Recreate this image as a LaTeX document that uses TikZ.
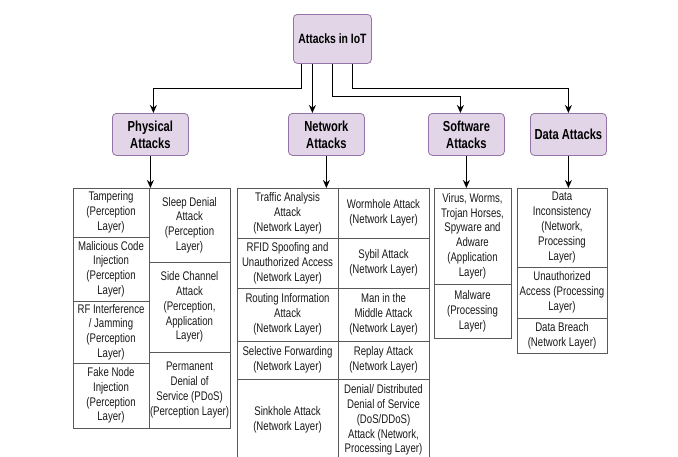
\documentclass[tikz,border=0pt]{standalone}
\usepackage{fontspec}
\setmainfont[FakeStretch=0.77]{Liberation Sans}
\usetikzlibrary{arrows.meta}
\definecolor{catfill}{HTML}{E1D5E7}
\definecolor{catline}{HTML}{9673A6}
\tikzset{cat/.style={draw=catline, fill=catfill, rounded corners=4pt, line width=0.8pt,
         font=\bfseries\fontsize{14.5}{17}\selectfont, align=center,
         minimum width=76, minimum height=42, anchor=north west, inner sep=1pt},
         cell/.style={draw=black!65, line width=0.8pt, anchor=north west, align=center,
         inner sep=1pt, outer sep=0pt, text=black!90, font=\fontsize{12.5}{14.8}\selectfont},
         arr/.style={-{Stealth[length=8pt,width=7pt]}, line width=1.3pt}}

\begin{document}
\begin{tikzpicture}[x=1pt,y=-1pt]
  \clip (0,0) rectangle (678,456);
  \fill[white] (0,0) rectangle (678,456);
  % top level
  \node[cat, font=\bfseries\fontsize{13.5}{16}\selectfont, minimum width=78, minimum height=49] (iot) at (293,14) {Attacks in IoT};
  \node[cat] (phys) at (112,113) {Physical\\Attacks};
  \node[cat] (net) at (288,113) {Network\\Attacks};
  \node[cat] (soft) at (428,113) {Software\\Attacks};
  \node[cat] (data) at (530,113) {Data Attacks};
  % physical attacks
  \node[cell, minimum width=76, minimum height=49] (ph1) at (73,188) {Tampering\\(Perception\\Layer)};
  \node[cell, minimum width=76, minimum height=64] (ph2) at (73,237) {Malicious Code\\Injection\\(Perception\\Layer)};
  \node[cell, minimum width=76, minimum height=62] (ph3) at (73,301) {RF Interference\\/ Jamming\\(Perception\\Layer)};
  \node[cell, minimum width=76, minimum height=65] (ph4) at (73,363) {Fake Node\\Injection\\(Perception\\Layer)};
  \node[cell, minimum width=81, minimum height=74] (ph5) at (149,188) {Sleep Denial\\Attack\\(Perception\\Layer)};
  \node[cell, minimum width=81, minimum height=90] (ph6) at (149,262) {Side Channel\\Attack\\(Perception,\\Application\\Layer)};
  \node[cell, minimum width=81, minimum height=76] (ph7) at (149,352) {Permanent\\Denial of\\Service (PDoS)\\(Perception Layer)};
  % network attacks
  \node[cell, minimum width=101, minimum height=50] (nw1) at (237,188) {Traffic Analysis\\Attack\\(Network Layer)};
  \node[cell, minimum width=101, minimum height=50] (nw2) at (237,238) {RFID Spoofing and\\Unauthorized Access\\(Network Layer)};
  \node[cell, minimum width=101, minimum height=53] (nw3) at (237,288) {Routing Information\\Attack\\(Network Layer)};
  \node[cell, minimum width=101, minimum height=38] (nw4) at (237,341) {Selective Forwarding\\(Network Layer)};
  \node[cell, minimum width=101, minimum height=82] (nw5) at (237,379) {Sinkhole Attack\\(Network Layer)};
  \node[cell, minimum width=91, minimum height=50] (nw6) at (338,188) {Wormhole Attack\\(Network Layer)};
  \node[cell, minimum width=91, minimum height=50] (nw7) at (338,238) {Sybil Attack\\(Network Layer)};
  \node[cell, minimum width=91, minimum height=53] (nw8) at (338,288) {Man in the\\Middle Attack\\(Network Layer)};
  \node[cell, minimum width=91, minimum height=38] (nw9) at (338,341) {Replay Attack\\(Network Layer)};
  \node[cell, minimum width=91, minimum height=82] (nw10) at (338,379) {Denial/ Distributed\\Denial of Service\\(DoS/DDoS)\\Attack (Network,\\Processing Layer)};
  % software attacks
  \node[cell, minimum width=77, minimum height=96] (sw1) at (434,188) {Virus, Worms,\\Trojan Horses,\\Spyware and\\Adware\\(Application\\Layer)};
  \node[cell, minimum width=77, minimum height=54] (sw2) at (434,284) {Malware\\(Processing\\Layer)};
  % data attacks
  \node[cell, minimum width=90, minimum height=79] (da1) at (517,188) {Data\\Inconsistency\\(Network,\\Processing\\Layer)};
  \node[cell, minimum width=90, minimum height=51] (da2) at (517,267) {Unauthorized\\Access (Processing\\Layer)};
  \node[cell, minimum width=90, minimum height=35] (da3) at (517,318) {Data Breach\\(Network Layer)};
  % connectors
  \draw[arr] ([xshift=-31]iot.south) -- ++(0,25) -| ([xshift=3]phys.north);
  \draw[arr] ([xshift=-20]iot.south) -- ([xshift=-20]iot.south |- net.north);
  \draw[arr] (iot.south) -- ++(0,33) -| ([xshift=-6]soft.north);
  \draw[arr] ([xshift=20]iot.south) -- ++(0,25) -| (data.north);
  \draw[arr] (phys.south) -- (phys.south |- ph1.north);
  \draw[arr] (net.south) -- (net.south |- nw1.north);
  \draw[arr] (soft.south) -- (soft.south |- sw1.north);
  \draw[arr] (data.south) -- (data.south |- da1.north);
\end{tikzpicture}
\end{document}
